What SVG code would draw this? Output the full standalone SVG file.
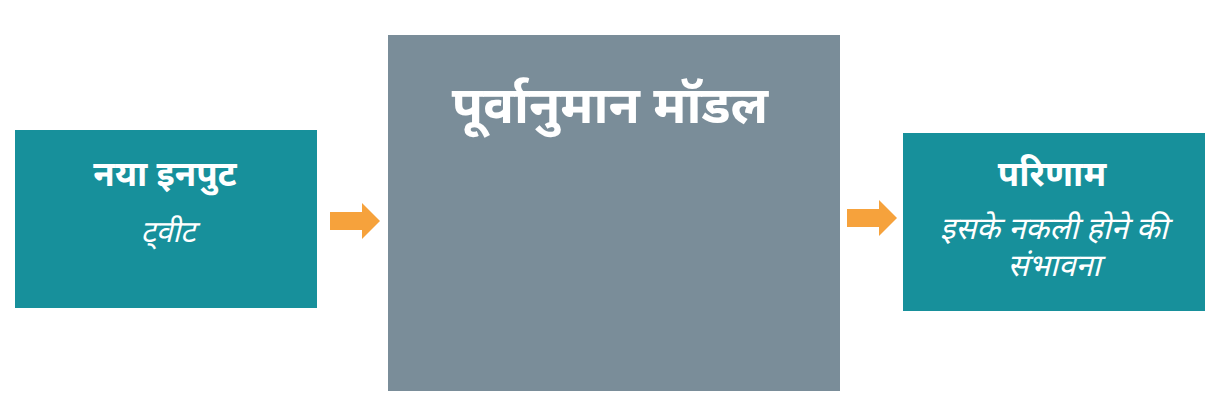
<svg xmlns="http://www.w3.org/2000/svg" width="1220" height="411" viewBox="0 0 1220 411">
<style>
.box{fill:#17909b}
.model{fill:#7a8d99}
.t{font-family:"Noto Sans Devanagari","Noto Sans","Noto Sans CJK SC",sans-serif;fill:#ffffff;text-anchor:middle}
.b{font-weight:bold}
.i{font-style:italic}
.arr{fill:#f6a23c}
</style>
<rect width="1220" height="411" fill="#ffffff"/>
<g id="input">
<rect class="box" x="15" y="130" width="302" height="178"/>
<text class="t b" x="165" y="186" font-size="35">नया इनपुट</text>
<text class="t i" x="168" y="242" font-size="30">ट्वीट</text>
</g>
<g id="model">
<rect class="model" x="388" y="35" width="452" height="356"/>
<text class="t b" x="610" y="123" font-size="51">पूर्वानुमान मॉडल</text>
</g>
<g id="result">
<rect class="box" x="903" y="133" width="302" height="178"/>
<text class="t b" x="1052" y="186" font-size="35">परिणाम</text>
<text class="t i" x="1054" y="239" font-size="31">इसके नकली होने की</text>
<text class="t i" x="1054" y="276" font-size="31">संभावना</text>
</g>
<g id="connectors">
<polygon class="arr" points="330,212 362,212 362,203 380,221 362,239 362,230 330,230"/>
<polygon class="arr" points="847,209 879,209 879,200 897,218 879,236 879,227 847,227"/>
</g>
</svg>
